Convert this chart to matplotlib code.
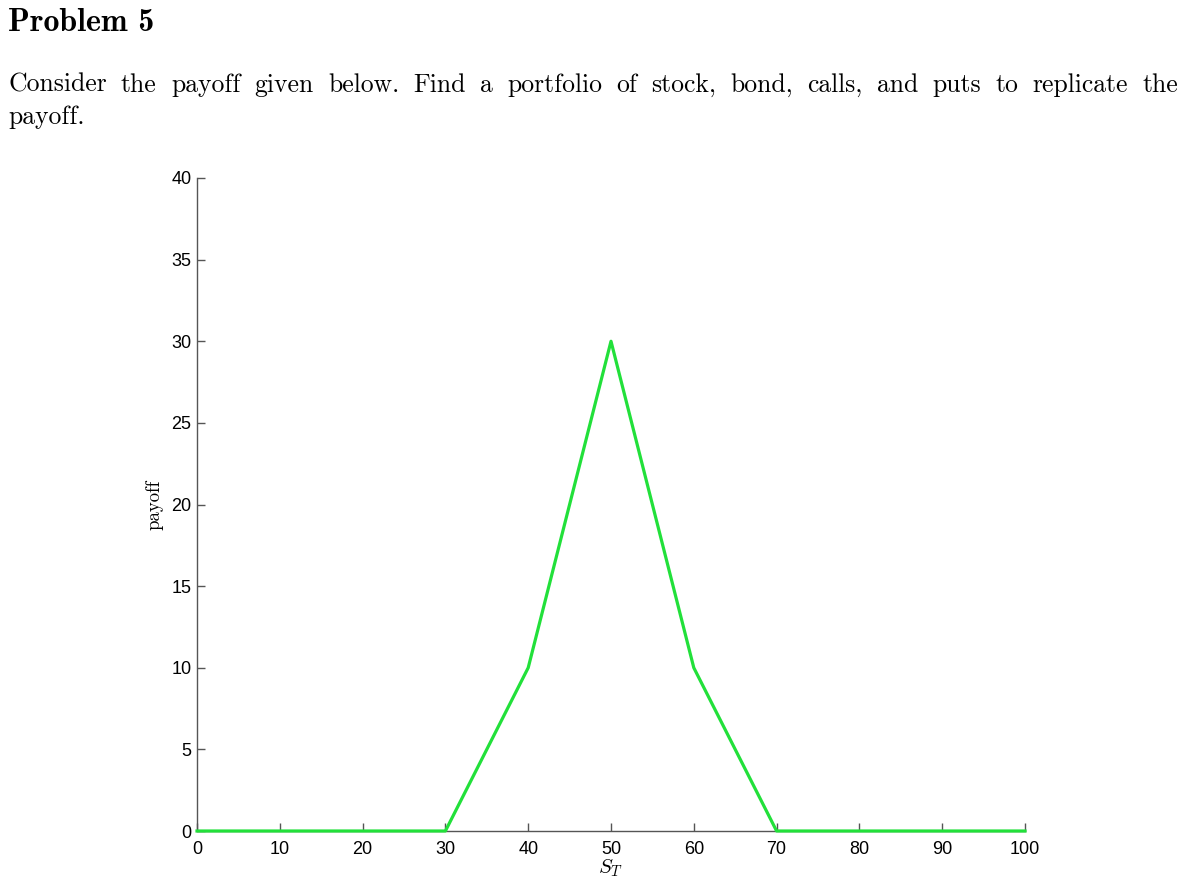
import matplotlib
matplotlib.use("Agg")
import matplotlib.pyplot as plt

# payoff at expiry as a function of the stock price S_T
stock_price = [0, 30, 40, 50, 60, 70, 100]
payoff = [0, 0, 10, 30, 10, 0, 0]
x_ticks = [0, 10, 20, 30, 40, 50, 60, 70, 80, 90, 100]
y_ticks = [0, 5, 10, 15, 20, 25, 30, 35, 40]

title = "Problem 5"
line1 = "Consider the payoff given below.  Find a portfolio of stock, bond, calls, and puts to replicate the"
line2 = "payoff."

plt.rcParams["mathtext.fontset"] = "cm"

W, H = 1198, 885
fig = plt.figure(figsize=(W / 100, H / 100), dpi=100)
serif = ["cmr10", "DejaVu Serif"]

fig.text(8 / W, 1 - 31 / H, title, fontsize=23, fontweight="bold",
         family=["cmb10", "DejaVu Serif"], va="baseline", ha="left")

# justified first line: place each word so the line fills the text width
renderer = fig.canvas.get_renderer()
words = line1.split()
left, right = 8, 1178
texts = [fig.text(0, 1 - 92 / H, w, fontsize=18.5, family=serif, va="baseline")
         for w in words]
widths = [t.get_window_extent(renderer).width for t in texts]
gap = (right - left - sum(widths)) / (len(words) - 1)
x = left
for t, wd in zip(texts, widths):
    t.set_x(x / W)
    x += wd + gap
fig.text(left / W, 1 - 124 / H, line2, fontsize=18.5, family=serif, va="baseline")

ax = fig.add_axes([197 / W, 1 - 831 / H, (1025 - 197) / W, (831 - 178) / H])
ax.plot(stock_price, payoff, color="#22E03A", linewidth=2.3, clip_on=False, zorder=3)
ax.set_xlim(0, 100)
ax.set_ylim(0, 40)
ax.set_xticks(x_ticks)
ax.set_yticks(y_ticks)
for side in ["top", "right"]:
    ax.spines[side].set_visible(False)
for side in ["left", "bottom"]:
    ax.spines[side].set_color("#555555")
    ax.spines[side].set_linewidth(1.0)
ax.tick_params(direction="in", length=6, width=1, color="#555555",
               labelsize=13, labelcolor="black")
ax.tick_params(axis="x", pad=7)
ax.tick_params(axis="y", pad=4)
for lab in ax.get_xticklabels() + ax.get_yticklabels():
    lab.set_family(["Liberation Sans", "DejaVu Sans"])
ax.set_xlabel("$S_T$", fontsize=15, labelpad=0)
ax.set_ylabel("payoff", fontsize=13.5, family=serif, labelpad=6)

fig.savefig("out.png", dpi=100)
